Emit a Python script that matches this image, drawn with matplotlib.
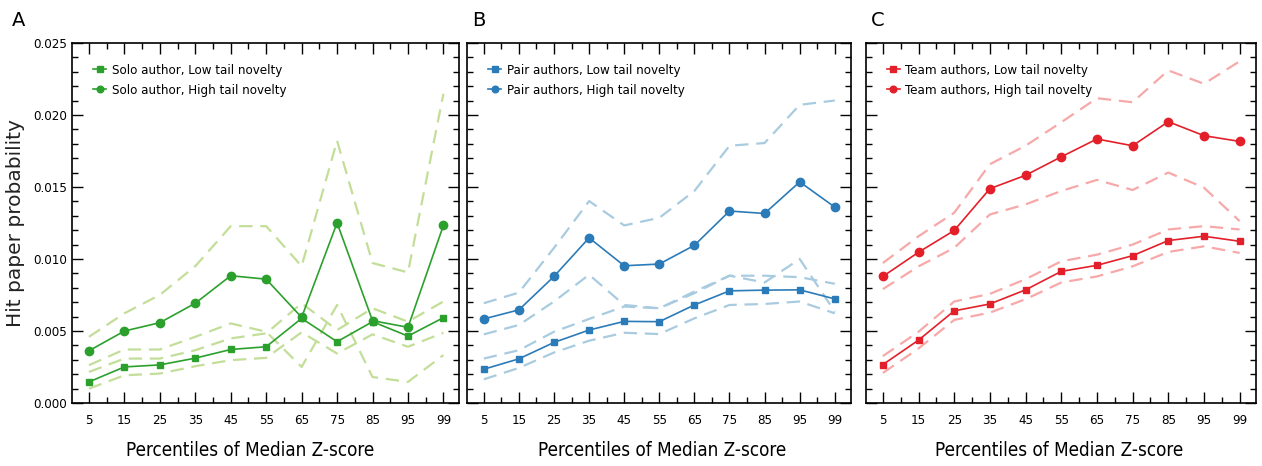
import matplotlib.pyplot as plt
import numpy as np
from matplotlib.ticker import MultipleLocator

# percentile categories on the x axis
percentiles = ["5", "15", "25", "35", "45", "55", "65", "75", "85", "95", "99"]

# Panel A: solo authors
solo_low = [0.00147, 0.00251, 0.00265, 0.00312, 0.00372, 0.00391, 0.00588, 0.00426, 0.00565, 0.00465, 0.00593]
solo_low_hi = [0.00216, 0.00309, 0.00309, 0.00367, 0.00449, 0.00484, 0.00693, 0.00507, 0.00658, 0.00565, 0.00705]
solo_low_lo = [0.00100, 0.00193, 0.00205, 0.00256, 0.00298, 0.00314, 0.00491, 0.00344, 0.00477, 0.00391, 0.00488]
solo_high = [0.00363, 0.00500, 0.00558, 0.00693, 0.00884, 0.00860, 0.00595, 0.01251, 0.00572, 0.00526, 0.01233]
solo_high_hi = [0.00460, 0.00623, 0.00751, 0.00950, 0.01228, 0.01228, 0.00950, 0.01821, 0.00972, 0.00907, 0.02147]
solo_high_lo = [0.00263, 0.00372, 0.00372, 0.00460, 0.00553, 0.00495, 0.00251, 0.00681, 0.00181, 0.00147, 0.00333]

# Panel B: pair authors
pair_low = [0.00235, 0.00307, 0.00421, 0.00507, 0.00567, 0.00565, 0.00681, 0.00779, 0.00784, 0.00786, 0.00723]
pair_low_hi = [0.00309, 0.00367, 0.00495, 0.00584, 0.00670, 0.00658, 0.00774, 0.00884, 0.00884, 0.00874, 0.00828]
pair_low_lo = [0.00165, 0.00244, 0.00351, 0.00433, 0.00488, 0.00479, 0.00588, 0.00681, 0.00688, 0.00705, 0.00623]
pair_high = [0.00584, 0.00647, 0.00879, 0.01147, 0.00953, 0.00965, 0.01095, 0.01333, 0.01316, 0.01535, 0.01360]
pair_high_hi = [0.00693, 0.00767, 0.01077, 0.01402, 0.01233, 0.01286, 0.01472, 0.01786, 0.01805, 0.02070, 0.02100]
pair_high_lo = [0.00477, 0.00542, 0.00705, 0.00891, 0.00681, 0.00658, 0.00763, 0.00884, 0.00837, 0.01000, 0.00635]

# Panel C: team authors
team_low = [0.00267, 0.00437, 0.00640, 0.00688, 0.00786, 0.00914, 0.00956, 0.01023, 0.01128, 0.01158, 0.01123]
team_low_hi = [0.00326, 0.00495, 0.00705, 0.00758, 0.00860, 0.00984, 0.01030, 0.01100, 0.01205, 0.01228, 0.01205]
team_low_lo = [0.00209, 0.00379, 0.00577, 0.00628, 0.00721, 0.00837, 0.00879, 0.00949, 0.01049, 0.01088, 0.01042]
team_high = [0.00879, 0.01047, 0.01198, 0.01488, 0.01581, 0.01709, 0.01833, 0.01786, 0.01953, 0.01856, 0.01816]
team_high_hi = [0.00972, 0.01158, 0.01321, 0.01658, 0.01786, 0.01949, 0.02116, 0.02088, 0.02309, 0.02216, 0.02372]
team_high_lo = [0.00791, 0.00949, 0.01077, 0.01309, 0.01379, 0.01472, 0.01549, 0.01479, 0.01600, 0.01495, 0.01263]

panels = [
    ("A", "Solo author", "#2ca02c", "#c3de98",
     solo_low, solo_low_hi, solo_low_lo, solo_high, solo_high_hi, solo_high_lo),
    ("B", "Pair authors", "#2b7bb9", "#a9cbe0",
     pair_low, pair_low_hi, pair_low_lo, pair_high, pair_high_hi, pair_high_lo),
    ("C", "Team authors", "#e3202a", "#f7a8a8",
     team_low, team_low_hi, team_low_lo, team_high, team_high_hi, team_high_lo),
]

lefts = [0.057, 0.370, 0.686]
widths = [0.307, 0.304, 0.309]
letter_x = [0.009, 0.374, 0.690]
xlabel_x = [0.46, 0.51, 0.495]

fig = plt.figure(figsize=(12.62, 4.66), dpi=100)
x = np.arange(len(percentiles))

for i, (letter, who, col, light, lo, lo_hi, lo_lo, hi, hi_hi, hi_lo) in enumerate(panels):
    ax = fig.add_axes([lefts[i], 0.135, widths[i], 0.773])

    # confidence bands as dashed lines
    for band in (lo_hi, lo_lo, hi_hi, hi_lo):
        ax.plot(x, band, color=light, lw=1.6, ls=(0, (6, 3.5)))

    ax.plot(x, lo, color=col, lw=1.2, marker="s", ms=5,
            label=who + ", Low tail novelty")
    ax.plot(x, hi, color=col, lw=1.2, marker="o", ms=6,
            label=who + ", High tail novelty")

    ax.set_xlim(-0.48, 10.45)
    ax.set_ylim(0, 0.025)
    ax.set_xticks(x)
    ax.set_xticklabels(percentiles, fontstretch="condensed")
    ax.xaxis.set_minor_locator(MultipleLocator(0.5))
    ax.yaxis.set_major_locator(MultipleLocator(0.005))
    ax.yaxis.set_minor_locator(MultipleLocator(0.001))
    ax.tick_params(which="both", direction="in", top=True, right=True, labelsize=9.5)
    ax.tick_params(which="major", length=8, width=1)
    ax.tick_params(which="minor", length=4, width=1)
    ax.tick_params(axis="x", pad=8)
    for s in ax.spines.values():
        s.set_linewidth(1.2)

    if i == 0:
        ax.set_yticks(np.arange(0, 0.0251, 0.005))
        ax.set_yticklabels(["%.3f" % v for v in np.arange(0, 0.0251, 0.005)],
                           fontstretch="condensed")
        ax.set_ylabel("Hit paper probability", fontsize=14.5, color="#222222")
        ax.yaxis.set_label_coords(-0.12, 0.5)
    else:
        ax.set_yticklabels([])

    ax.set_xlabel("Percentiles of Median Z-score", fontsize=13.5,
                  fontstretch="condensed")
    ax.xaxis.set_label_coords(xlabel_x[i], -0.105)
    leg = ax.legend(loc="upper left", frameon=False, fontsize=9.5, handlelength=1.0,
                    handletextpad=0.4, markerscale=0.8, borderaxespad=1.2,
                    labelspacing=0.5)
    for t in leg.get_texts():
        t.set_fontstretch("condensed")

    fig.text(letter_x[i], 0.955, letter, fontsize=14, ha="left", va="center")

fig.savefig("out.png", dpi=100)
